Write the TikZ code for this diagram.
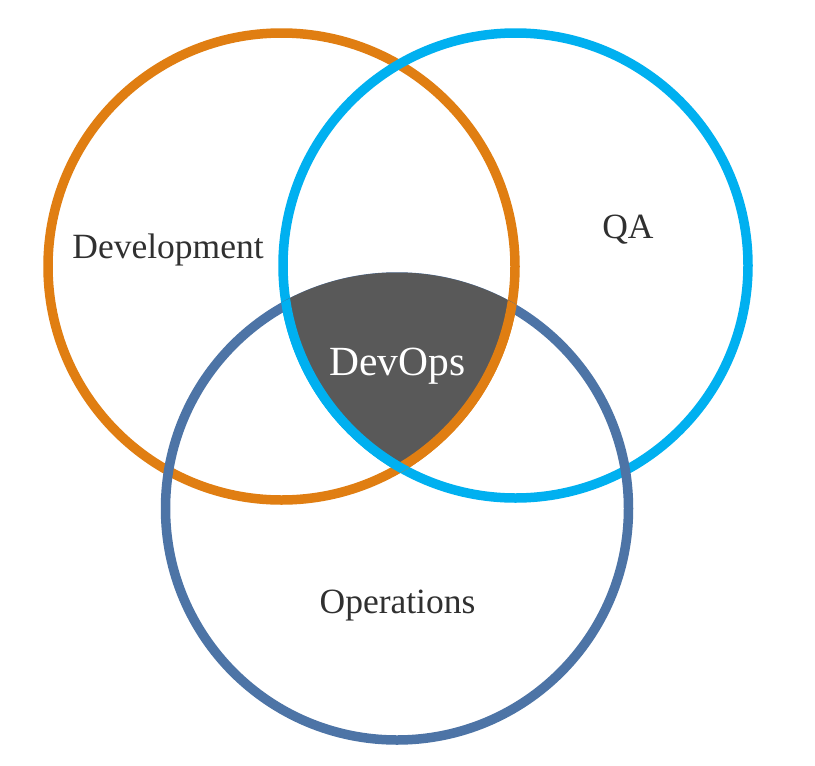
\documentclass[tikz,border=0pt]{standalone}
\usepackage{fontspec}
\setmainfont{Liberation Serif}
\definecolor{devorange}{HTML}{E07E12}
\definecolor{qablue}{HTML}{00B0F0}
\definecolor{opsblue}{HTML}{4D74A6}
\definecolor{devopsgray}{HTML}{595959}
\definecolor{labelgray}{HTML}{303030}
\begin{document}
\begin{tikzpicture}[x=1pt,y=-1pt,
  ring/.style={line width=9.5pt},
  lbl/.style={anchor=base,text=labelgray,font=\fontsize{35.5}{42}\selectfont,inner sep=0pt}]
\useasboundingbox[fill=white] (0,0) rectangle (815,766);
\coordinate (dev) at (281.5,266.5);
\coordinate (qa) at (515.5,265.5);
\coordinate (ops) at (397,508.5);
% base rings
\draw[ring,devorange] (dev) circle (233.5pt);
\draw[ring,qablue] (qa) circle (232.5pt);
\draw[ring,opsblue] (ops) circle (231.5pt);
% central region
\begin{scope}
  \clip (dev) circle (233.5pt);
  \clip (qa) circle (232.5pt);
  \fill[devopsgray] (ops) circle (236pt);
\end{scope}
% redraw orange arc bordering the region
\begin{scope}
  \clip (qa) circle (237pt);
  \clip (ops) circle (236pt);
  \draw[ring,devorange] (dev) circle (233.5pt);
\end{scope}
% redraw blue arc bordering the region
\begin{scope}
  \clip (dev) circle (238pt);
  \clip (ops) circle (236pt);
  \draw[ring,qablue] (qa) circle (232.5pt);
\end{scope}
% labels
\node[lbl] (ldev) at (168,258) {Development};
\node[lbl] (lqa) at (628,238) {QA};
\node[lbl] (lops) at (397.5,613) {Operations};
\node[lbl,text=white,font=\fontsize{41.5}{48}\selectfont] (ldevops) at (397.5,375) {DevOps};
\end{tikzpicture}
\end{document}
